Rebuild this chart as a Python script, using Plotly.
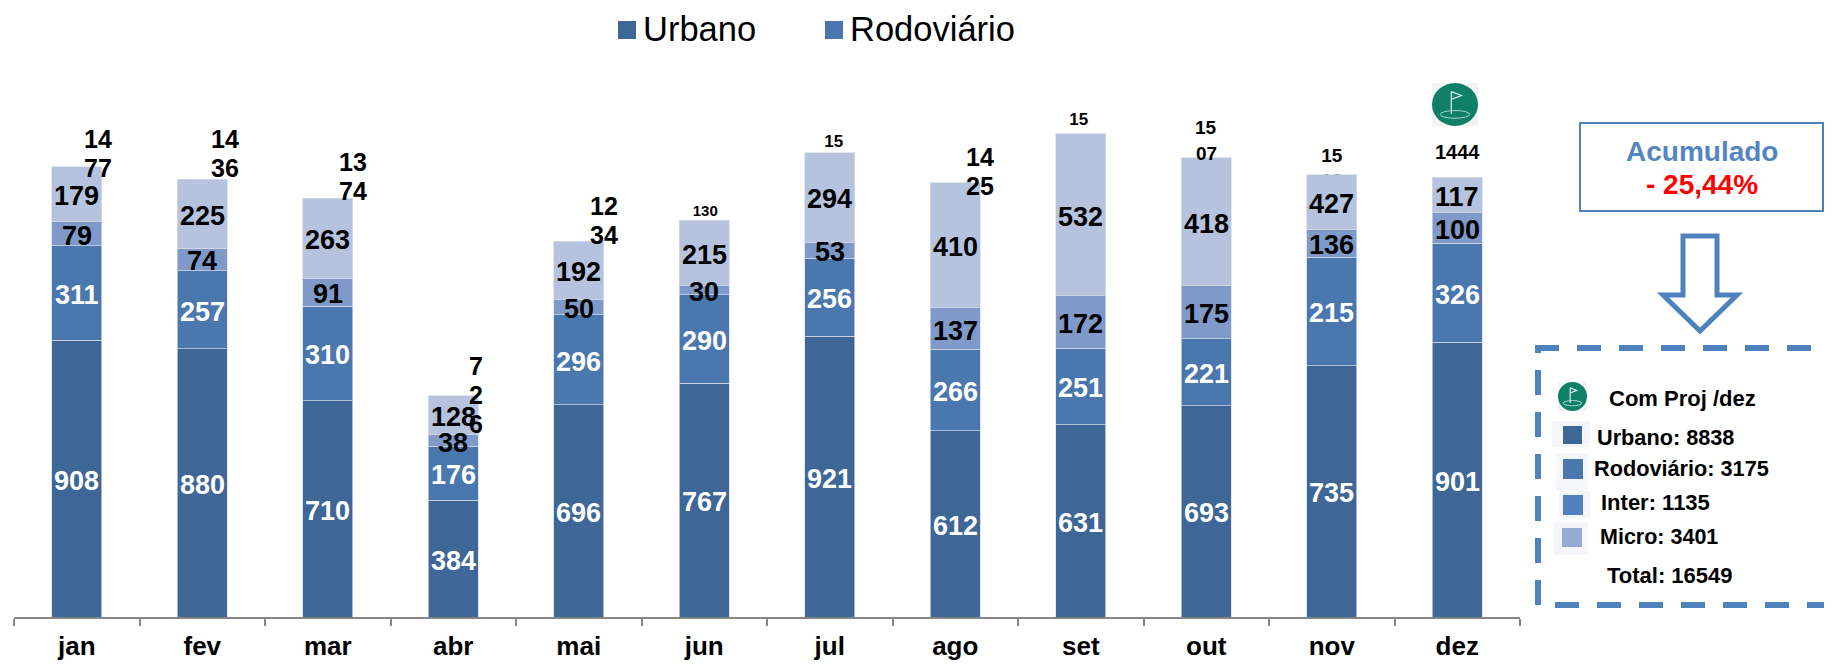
import plotly.graph_objects as go

W, H = 1824, 656  # the page body adds an 8 px margin, filling the 1832x664 window
months = ["jan", "fev", "mar", "abr", "mai", "jun", "jul", "ago", "set", "out", "nov", "dez"]
# heights as drawn (nov bars are drawn differently from their printed labels)
urbano = [908, 880, 710, 384, 696, 767, 921, 612, 631, 693, 825, 901]
rodoviario = [311, 257, 310, 176, 296, 290, 256, 266, 251, 221, 356, 326]
inter = [79, 74, 91, 38, 50, 30, 53, 137, 172, 175, 92, 100]
micro = [179, 225, 263, 128, 192, 215, 294, 410, 532, 418, 178, 117]
# numbers printed on the bars
urbano_labels = [908, 880, 710, 384, 696, 767, 921, 612, 631, 693, 735, 901]
rodoviario_labels = [311, 257, 310, 176, 296, 290, 256, 266, 251, 221, 215, 326]
inter_labels = [79, 74, 91, 38, 50, 30, 53, 137, 172, 175, 136, 100]
micro_labels = [179, 225, 263, 128, 192, 215, 294, 410, 532, 418, 427, 117]
# how each total label is broken into lines in the picture
total_lines = [["14", "77"], ["14", "36"], ["13", "74"], ["7", "2", "6"], ["12", "34"], ["130", "2"],
               ["15", "24"], ["14", "25"], ["15", "86"], ["15", "07"], ["15", "13"], ["1444"]]
hidden_behind_bar = ["jun", "jul", "set", "nov"]
total_size = [25, 25, 25, 25, 25, 15, 17, 25, 17, 19, 19, 20]
total_dx = [21, 23, 25, 23, 25, 1, 4, 25, -2, 0, 0, 0]
total_up = [28, 40, 36, 30, 35, -2, -1, 26, 2, 30, 5, 25]
total_gap = [29, 29, 29, 29, 29, 0, 0, 29, 0, 26, 0, 0]

C_URB, C_ROD, C_INT, C_MIC = "#3e6696", "#4a77ae", "#7f9ac8", "#b5c3de"
BLUE = "#4f81bd"
FONT = "Liberation Sans"

X0, X1, YB, YT = 14, 1520, 617, 69
PX_PER_UNIT = 0.3047
YMAX = (YB - YT) / PX_PER_UNIT
STEP = (X1 - X0) / 12


def px(x):
    return (x - 8) / W


def py(y):
    return 1 - (y - 8) / H


tops = [a + b + c + d for a, b, c, d in zip(urbano, rodoviario, inter, micro)]

fig = go.Figure()

# labels on the base axes, so the bars cover their lower lines
for i, m in enumerate(months):
    if m in hidden_behind_bar:
        fig.add_trace(go.Scatter(
            x=[i + total_dx[i] / STEP], y=[tops[i] + total_up[i] / PX_PER_UNIT],
            mode="text", text=["<br>".join(total_lines[i])], textposition="middle center",
            textfont=dict(family=FONT, size=total_size[i], color="black", weight="bold"),
            cliponaxis=False, showlegend=False, hoverinfo="skip", xaxis="x", yaxis="y"))

for name, vals, col in [("Urbano", urbano, C_URB), ("Rodoviário", rodoviario, C_ROD),
                        ("Inter", inter, C_INT), ("Micro", micro, C_MIC)]:
    fig.add_trace(go.Bar(x=months, y=vals, name=name, width=0.4, showlegend=False,
                         marker=dict(color=col, line=dict(color="#d5dcea", width=0.7)),
                         xaxis="x2", yaxis="y2"))

ann = []
base = [0] * 12
for vals, labels, col in [(urbano, urbano_labels, "white"), (rodoviario, rodoviario_labels, "white"),
                          (inter, inter_labels, "black"), (micro, micro_labels, "black")]:
    for i, v in enumerate(vals):
        ann.append(dict(x=months[i], y=base[i] + v / 2, xref="x2", yref="y2", text=str(labels[i]), showarrow=False,
                        yshift=-2, font=dict(family=FONT, size=27, color=col, weight="bold")))
        base[i] += v

for i, m in enumerate(months):
    if m not in hidden_behind_bar:
        for k, line in enumerate(total_lines[i]):
            ann.append(dict(x=m, y=tops[i], xref="x2", yref="y2", text=line,
                            showarrow=False, xshift=total_dx[i], yshift=total_up[i] - k * total_gap[i],
                            yanchor="middle",
                            font=dict(family=FONT, size=total_size[i], color="black", weight="bold")))


def note(x, y, text, size, color="black", bold=True, anchor="left"):
    ann.append(dict(x=px(x), y=py(y), xref="paper", yref="paper", text=text, showarrow=False,
                    xanchor=anchor, yanchor="middle",
                    font=dict(family=FONT, size=size, color=color, weight="bold" if bold else "normal")))


shapes = []


def rect(x0, y0, x1, y1, fill, line=None, lw=0):
    shapes.append(dict(type="rect", xref="paper", yref="paper", x0=px(x0), x1=px(x1), y0=py(y0), y1=py(y1),
                       fillcolor=fill, line=dict(color=line or fill, width=lw)))


def pth(points, color, lw, dash="solid", close=False):
    d = "M" + "L".join(f"{px(a):.5f},{py(b):.5f}" for a, b in points) + ("Z" if close else "")
    shapes.append(dict(type="path", xref="paper", yref="paper", path=d, line=dict(color=color, width=lw, dash=dash)))


def icon(x0, y0, x1, y1):
    s = x1 - x0
    t = y1 - y0
    rect(x0, y0, x1, y1, "#f2f3f3")
    shapes.append(dict(type="circle", xref="paper", yref="paper", x0=px(x0), x1=px(x1), y0=py(y0), y1=py(y1),
                       fillcolor="#0f7f68", line=dict(width=0)))
    shapes.append(dict(type="circle", xref="paper", yref="paper", x0=px(x0 + .18 * s), x1=px(x0 + .82 * s),
                       y0=py(y0 + .64 * t), y1=py(y0 + .82 * t), fillcolor="rgba(0,0,0,0)",
                       line=dict(color="#a9d5ca", width=1)))
    pth([(x0 + .42 * s, y0 + .72 * t), (x0 + .42 * s, y0 + .2 * t)], "#d8efe9", 1.2)
    pth([(x0 + .42 * s, y0 + .2 * t), (x0 + .64 * s, y0 + .29 * t), (x0 + .42 * s, y0 + .38 * t)], "#d8efe9", 1.2)


# legend
rect(618, 21, 636, 39, C_URB)
note(641, 29, "Urbano", 34.5, bold=False)
rect(825, 21, 843, 39, C_ROD)
note(848, 29, "Rodoviário", 34.5, bold=False)

icon(1432, 83, 1478, 126)

# accumulated box and arrow
rect(1580, 123, 1823, 211, "white", BLUE, 2)
note(1702, 152, "Acumulado", 28, color="#5585c0", anchor="center")
note(1702, 184, "- 25,44%", 28, color="#ff0000", anchor="center")
pth([(1683, 236), (1717, 236), (1717, 295), (1737, 295), (1700, 331), (1663, 295), (1683, 295)], BLUE, 5, close=True)

# dashed panel
pth([(1535, 348), (1840, 348)], BLUE, 6, dash="24px,18px")
pth([(1538, 605), (1538, 350)], BLUE, 6, dash="25px,17px")
pth([(1555, 605), (1840, 605)], BLUE, 6, dash="24px,18px")

icon(1558, 382, 1587, 411)
note(1607, 398, "Com Proj /dez", 22)
rect(1552, 421, 1590, 447, "#f5f6fa")
rect(1563, 426, 1582, 444, "#3e6696")
note(1595, 437, "Urbano: 8838", 21.7)
rect(1556, 453, 1588, 490, "#f5f6fa")
rect(1563, 459, 1583, 479, "#4a77ae")
note(1592, 468, "Rodoviário: 3175", 21.7)
rect(1559, 491, 1590, 518, "#f5f6fa")
rect(1563, 495, 1583, 515, "#4f81bd")
note(1599, 503, "Inter: 1135", 22)
rect(1554, 522, 1588, 555, "#f5f6fa")
rect(1562, 528, 1582, 547, "#95abd3")
note(1598, 537, "Micro: 3401", 21.5)
note(1605, 575, "Total: 16549", 22)

dom_x = [px(X0), px(X1)]
dom_y = [py(YB), py(YT)]
fig.update_layout(
    width=W, height=H, autosize=False, margin=dict(l=0, r=0, t=0, b=0), barmode="stack",
    paper_bgcolor="white", plot_bgcolor="white", showlegend=False,
    annotations=ann, shapes=shapes,
    xaxis=dict(domain=dom_x, range=[-0.5, 11.5], visible=False, fixedrange=True),
    yaxis=dict(domain=dom_y, range=[0, YMAX], visible=False, fixedrange=True),
    xaxis2=dict(domain=dom_x, overlaying="x", anchor="y2", type="category", categoryorder="array", categoryarray=months,
                range=[-0.5, 11.5], tickson="boundaries", ticks="outside", ticklen=7, tickwidth=2, tickcolor="#868686",
                showline=True, linecolor="#868686", linewidth=2, showgrid=False, ticklabelstandoff=5,
                tickfont=dict(family=FONT, size=26, color="black", weight="bold")),
    yaxis2=dict(domain=dom_y, overlaying="y", anchor="x2", range=[0, YMAX], visible=False, showgrid=False, zeroline=False),
)
fig.write_html("out.html")
